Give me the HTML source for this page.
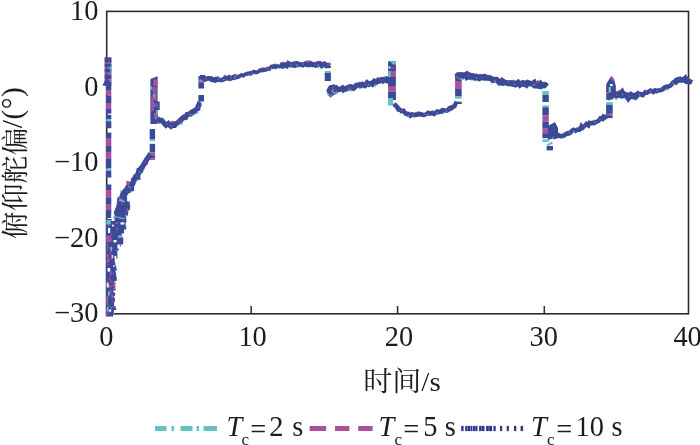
<!DOCTYPE html>
<html><head><meta charset="utf-8"><title>chart</title>
<style>html,body{margin:0;padding:0;background:#ffffff}svg{display:block}text{font-family:"Liberation Serif","Noto Serif CJK SC",serif;fill:#1c1c1c}</style>
</head><body>
<svg width="700" height="445" viewBox="0 0 700 445">
<rect width="700" height="445" fill="#ffffff"/>
<rect x="106.7" y="11.4" width="581.8" height="302.4" fill="none" stroke="#2b2b2b" stroke-width="1.6"/>
<line x1="251.2" y1="313.8" x2="251.2" y2="306.0" stroke="#2b2b2b" stroke-width="1.5"/>
<line x1="397.6" y1="313.8" x2="397.6" y2="306.0" stroke="#2b2b2b" stroke-width="1.5"/>
<line x1="544.3" y1="313.8" x2="544.3" y2="306.0" stroke="#2b2b2b" stroke-width="1.5"/>
<rect x="104.5" y="57.3" width="7.0" height="5.5" fill="#3b4a98"/>
<rect x="104.5" y="62.8" width="7.0" height="1.2" fill="#a8519c"/>
<rect x="104.5" y="64.0" width="7.0" height="3.5" fill="#3b4a98"/>
<rect x="104.5" y="67.5" width="7.0" height="1.2" fill="#a8519c"/>
<rect x="104.5" y="68.7" width="7.0" height="4.0" fill="#3b4a98"/>
<rect x="104.5" y="72.7" width="7.0" height="1.6" fill="#a8519c"/>
<rect x="104.5" y="74.3" width="7.0" height="5.0" fill="#3b4a98"/>
<rect x="104.5" y="79.3" width="7.0" height="2.0" fill="#a8519c"/>
<rect x="104.5" y="81.3" width="7.0" height="4.7" fill="#3b4a98"/>
<rect x="110.3" y="66" width="1.6" height="6" fill="#62c3c0"/>
<path d="M102.3 85.5 L106 79 L108 79 L111 85.5 Z" fill="#3b4a98"/>
<rect x="105.9" y="86.0" width="5.4" height="4.0" fill="#3b4a98"/>
<rect x="105.9" y="90.0" width="5.4" height="5.5" fill="#a8519c"/>
<rect x="105.9" y="95.5" width="5.4" height="7.5" fill="#3b4a98"/>
<rect x="105.9" y="103.0" width="5.4" height="6.0" fill="#a8519c"/>
<rect x="105.9" y="109.0" width="5.4" height="4.6" fill="#3b4a98"/>
<rect x="105.9" y="114.8" width="5.4" height="4.5" fill="#3b4a98"/>
<rect x="105.9" y="119.3" width="5.4" height="2.0" fill="#62c3c0"/>
<rect x="105.9" y="121.3" width="5.4" height="6.9" fill="#3b4a98"/>
<rect x="105.9" y="132.6" width="5.4" height="5.4" fill="#3b4a98"/>
<rect x="105.9" y="138.0" width="5.4" height="8.0" fill="#a8519c"/>
<rect x="105.9" y="146.0" width="5.4" height="6.0" fill="#3b4a98"/>
<rect x="105.9" y="152.0" width="5.4" height="7.0" fill="#a8519c"/>
<rect x="105.9" y="159.0" width="5.4" height="9.5" fill="#3b4a98"/>
<rect x="105.9" y="168.5" width="5.4" height="2.5" fill="#62c3c0"/>
<rect x="105.9" y="171.0" width="5.4" height="6.5" fill="#3b4a98"/>
<rect x="105.9" y="184.5" width="5.4" height="5.5" fill="#3b4a98"/>
<rect x="105.9" y="190.0" width="5.4" height="8.0" fill="#a8519c"/>
<rect x="105.9" y="198.0" width="5.4" height="6.0" fill="#3b4a98"/>
<rect x="105.9" y="204.0" width="5.4" height="6.0" fill="#a8519c"/>
<rect x="105.9" y="210.0" width="5.4" height="8.0" fill="#3b4a98"/>
<path d="M105.8 316.6 L113.1 316.6 L113.1 313.6 L113.9 313.6 L113.9 310.1 L116.2 310.1 L116.2 308.1 L115.6 308.1 L115.6 306.1 L114.1 306.1 L114.1 302.1 L114.9 302.1 L114.9 298.1 L114.2 298.1 L114.2 296.1 L115.1 296.1 L115.1 292.6 L113.4 292.6 L113.4 290.6 L115.6 290.6 L115.6 288.6 L114.4 288.6 L114.4 285.1 L114.4 285.1 L114.4 281.1 L116.7 281.1 L116.7 278.6 L116.7 278.6 L116.7 276.6 L116.1 276.6 L116.1 272.6 L115.4 272.6 L115.4 270.6 L116.8 270.6 L116.8 268.6 L116.2 268.6 L116.2 266.1 L115.4 266.1 L115.4 262.6 L114.7 262.6 L114.7 258.6 L117.5 258.6 L117.5 254.6 L117.3 254.6 L117.3 250.6 L118.7 250.6 L118.7 248.6 L117.4 248.6 L117.4 244.6 L123.2 244.6 L123.2 241.6 L123.3 241.6 L123.3 237.6 L121.6 237.6 L121.6 233.6 L124.0 233.6 L124.0 229.6 L126.2 229.6 L126.2 226.1 L125.7 226.1 L125.7 222.6 L126.4 222.6 L126.4 219.1 L126.0 219.1 L126.0 215.6 L128.0 215.6 L128.0 212.6 L128.4 212.6 L128.4 210.1 L129.9 210.1 L129.9 208.1 L130.1 208.1 L130.1 205.1 L129.8 205.1 L129.8 201.6 L119.0 201.6 L116.0 207.0 L114.0 212.0 L113.5 219.0 L105.8 219.0 Z" fill="#3b4a98"/>
<rect x="112.0" y="224.7" width="1.8" height="1.8" fill="#ffffff"/>
<rect x="106.6" y="309.9" width="1.5" height="2.4" fill="#a8519c"/>
<rect x="110.7" y="281.4" width="1.8" height="1.8" fill="#a8519c"/>
<rect x="113.2" y="296.9" width="1.0" height="1.0" fill="#a8519c"/>
<rect x="108.4" y="285.2" width="1.8" height="2.9" fill="#a8519c"/>
<rect x="112.9" y="283.7" width="1.8" height="2.9" fill="#a8519c"/>
<rect x="108.0" y="225.0" width="1.5" height="1.5" fill="#a8519c"/>
<rect x="111.4" y="255.1" width="1.8" height="2.9" fill="#ffffff"/>
<rect x="113.7" y="282.6" width="1.8" height="1.8" fill="#a8519c"/>
<rect x="109.1" y="223.1" width="1.2" height="1.2" fill="#a8519c"/>
<rect x="110.8" y="258.9" width="1.0" height="1.0" fill="#a8519c"/>
<rect x="109.6" y="251.8" width="1.2" height="1.2" fill="#a8519c"/>
<rect x="114.5" y="255.9" width="1.8" height="4.3" fill="#ffffff"/>
<rect x="107.0" y="249.7" width="1.0" height="1.0" fill="#a8519c"/>
<rect x="116.6" y="214.2" width="1.5" height="1.5" fill="#a8519c"/>
<rect x="119.5" y="218.0" width="1.5" height="1.5" fill="#a8519c"/>
<rect x="116.5" y="214.5" width="1.5" height="2.4" fill="#a8519c"/>
<rect x="109.8" y="271.4" width="1.8" height="4.3" fill="#a8519c"/>
<rect x="108.5" y="258.4" width="1.5" height="2.4" fill="#a8519c"/>
<rect x="111.6" y="258.2" width="1.2" height="1.9" fill="#a8519c"/>
<rect x="115.5" y="222.7" width="1.5" height="1.5" fill="#a8519c"/>
<rect x="108.1" y="281.5" width="1.2" height="1.9" fill="#a8519c"/>
<rect x="109.6" y="289.6" width="1.5" height="1.5" fill="#a8519c"/>
<rect x="112.3" y="272.6" width="1.2" height="1.2" fill="#a8519c"/>
<rect x="111.1" y="294.6" width="1.8" height="2.9" fill="#a8519c"/>
<rect x="113.7" y="285.2" width="1.8" height="2.9" fill="#a8519c"/>
<rect x="116.5" y="227.7" width="1.5" height="2.4" fill="#a8519c"/>
<rect x="115.1" y="215.6" width="1.5" height="1.5" fill="#a8519c"/>
<rect x="114.0" y="258.6" width="1.0" height="2.4" fill="#a8519c"/>
<rect x="108.6" y="304.3" width="1.0" height="2.4" fill="#a8519c"/>
<rect x="110.7" y="290.7" width="1.2" height="2.9" fill="#a8519c"/>
<rect x="108.0" y="291.4" width="1.8" height="4.3" fill="#62c3c0"/>
<rect x="115.4" y="249.9" width="1.2" height="1.2" fill="#a8519c"/>
<rect x="121.7" y="209.9" width="1.2" height="2.9" fill="#a8519c"/>
<rect x="108.8" y="277.3" width="1.2" height="1.2" fill="#a8519c"/>
<rect x="126.8" y="208.5" width="1.2" height="2.9" fill="#a8519c"/>
<rect x="110.0" y="238.3" width="1.5" height="3.6" fill="#a8519c"/>
<rect x="106.5" y="296.3" width="1.8" height="4.3" fill="#a8519c"/>
<rect x="112.5" y="295.5" width="1.2" height="1.2" fill="#a8519c"/>
<rect x="111.8" y="300.4" width="1.2" height="1.2" fill="#a8519c"/>
<rect x="116.9" y="222.1" width="1.0" height="1.6" fill="#a8519c"/>
<rect x="110.2" y="280.0" width="1.0" height="1.0" fill="#a8519c"/>
<rect x="110.4" y="233.6" width="1.8" height="1.8" fill="#a8519c"/>
<rect x="112.6" y="288.3" width="1.2" height="1.9" fill="#a8519c"/>
<rect x="111.2" y="255.4" width="1.2" height="1.9" fill="#a8519c"/>
<rect x="112.6" y="305.7" width="1.8" height="1.8" fill="#a8519c"/>
<rect x="109.9" y="251.6" width="1.2" height="2.9" fill="#a8519c"/>
<rect x="121.7" y="214.8" width="1.2" height="1.9" fill="#a8519c"/>
<rect x="121.5" y="222.3" width="1.2" height="1.2" fill="#ffffff"/>
<rect x="110.8" y="249.6" width="1.2" height="1.2" fill="#ffffff"/>
<rect x="113.8" y="282.6" width="1.8" height="1.8" fill="#a8519c"/>
<rect x="107.2" y="245.2" width="1.5" height="3.6" fill="#a8519c"/>
<rect x="106.2" y="254.1" width="1.5" height="1.5" fill="#a8519c"/>
<rect x="122.2" y="219.1" width="1.0" height="1.0" fill="#a8519c"/>
<rect x="106.6" y="235.4" width="1.5" height="1.5" fill="#a8519c"/>
<rect x="112.0" y="294.7" width="1.5" height="3.6" fill="#a8519c"/>
<rect x="122.1" y="223.0" width="1.5" height="1.5" fill="#a8519c"/>
<rect x="118.5" y="236.9" width="1.0" height="1.6" fill="#a8519c"/>
<rect x="110.7" y="307.4" width="1.0" height="1.0" fill="#62c3c0"/>
<rect x="124.9" y="214.1" width="1.5" height="3.6" fill="#a8519c"/>
<rect x="108.0" y="306.2" width="1.2" height="1.2" fill="#a8519c"/>
<rect x="107.9" y="310.7" width="1.5" height="2.4" fill="#a8519c"/>
<rect x="107.7" y="263.8" width="1.2" height="1.9" fill="#a8519c"/>
<rect x="106.3" y="244.1" width="1.0" height="1.0" fill="#a8519c"/>
<rect x="110.3" y="285.4" width="1.8" height="1.8" fill="#a8519c"/>
<rect x="106.8" y="307.0" width="1.8" height="4.3" fill="#62c3c0"/>
<rect x="113.1" y="265.4" width="1.5" height="1.5" fill="#ffffff"/>
<rect x="119.8" y="243.7" width="1.2" height="2.9" fill="#a8519c"/>
<rect x="113.2" y="312.9" width="1.0" height="1.0" fill="#62c3c0"/>
<rect x="113.0" y="273.9" width="1.0" height="1.0" fill="#a8519c"/>
<rect x="109.0" y="278.2" width="1.5" height="1.5" fill="#a8519c"/>
<rect x="106.4" y="281.1" width="1.5" height="3.6" fill="#a8519c"/>
<rect x="118.8" y="207.4" width="1.5" height="1.5" fill="#a8519c"/>
<rect x="125.5" y="210.7" width="1.2" height="1.2" fill="#a8519c"/>
<rect x="107.4" y="242.9" width="1.2" height="1.2" fill="#a8519c"/>
<rect x="106.0" y="261.0" width="1.0" height="1.0" fill="#a8519c"/>
<rect x="106.4" y="249.7" width="1.5" height="1.5" fill="#a8519c"/>
<rect x="105.8" y="313.0" width="1.8" height="3.6" fill="#a8519c"/>
<rect x="109.2" y="309.5" width="2.0" height="2.2" fill="#ffffff"/>
<rect x="106.3" y="220.0" width="4.4" height="4.6" fill="#62c3c0"/>
<rect x="107.6" y="268.0" width="2.6" height="3.6" fill="#ffffff"/>
<rect x="106.8" y="283.0" width="1.8" height="4.4" fill="#ffffff"/>
<rect x="111.5" y="214.0" width="3.0" height="7.0" fill="#ffffff"/>
<rect x="108.0" y="228.0" width="2.2" height="5.0" fill="#ffffff"/>
<rect x="118.0" y="235.5" width="4.5" height="2.2" fill="#62c3c0"/>
<rect x="110.0" y="247.0" width="2.2" height="2.2" fill="#62c3c0"/>
<rect x="113.0" y="216.5" width="2.6" height="1.8" fill="#62c3c0"/>
<rect x="106.2" y="236.0" width="5.0" height="6.0" fill="#a8519c"/>
<rect x="107.0" y="254.0" width="1.8" height="9.0" fill="#a8519c"/>
<rect x="106.4" y="296.0" width="1.6" height="9.0" fill="#a8519c"/>
<rect x="120.5" y="222.5" width="4.0" height="2.0" fill="#ffffff"/>
<rect x="113.5" y="240.0" width="3.0" height="2.4" fill="#ffffff"/>
<path d="M120.0 218.3 L121.3 213.5 L121.6 213.7 L121.6 211.7 L121.9 208.9 L121.5 207.6 L121.4 206.6 L122.3 203.7 L122.1 202.8 L122.3 201.8 L122.8 198.9" fill="none" stroke="#62c3c0" stroke-width="9.1" stroke-linejoin="miter" stroke-miterlimit="2" stroke-dasharray="7 3 2 3"/>
<path d="M120.9 213.8 L121.1 214.6 L121.4 213.1 L121.7 208.0 L121.1 208.2 L122.3 205.6 L121.8 202.6 L121.4 202.6 L121.9 200.0 L122.3 197.6 L123.0 198.9" fill="none" stroke="#a8519c" stroke-width="9.1" stroke-linejoin="miter" stroke-miterlimit="2" stroke-dasharray="8 5"/>
<path d="M120.0 217.1 L120.3 215.8 L121.1 210.2 L121.9 208.9 L121.9 207.2 L121.4 208.3 L122.4 204.8 L122.4 201.2 L122.1 203.1 L122.1 197.9 L122.6 199.8" fill="none" stroke="#3b4a98" stroke-width="9.9" stroke-linejoin="miter" stroke-miterlimit="2" />
<path d="M120.5 216.0 L120.8 214.0 L121.2 212.0 L121.5 210.0 L121.6 208.2 L121.8 206.5 L121.9 204.8 L122.0 203.0 L122.2 201.3 L122.3 199.7 L122.5 198.0" fill="none" stroke="#a8519c" stroke-width="1.3" stroke-linejoin="miter" stroke-miterlimit="2" stroke-dasharray="1.4 11" stroke-dashoffset="1"/>
<path d="M120.5 217.0 L120.8 215.0 L121.2 213.0 L121.5 211.0 L121.6 209.2 L121.8 207.5 L121.9 205.8 L122.0 204.0 L122.2 202.3 L122.3 200.7 L122.5 199.0" fill="none" stroke="#62c3c0" stroke-width="1.1" stroke-linejoin="miter" stroke-miterlimit="2" stroke-dasharray="1.3 19" stroke-dashoffset="5"/>
<path d="M121.7 201.6 L122.5 198.9 L122.9 195.1 L124.1 195.9 L125.5 194.6 L125.9 192.6 L127.0 191.1 L127.5 191.4 L128.6 190.4 L130.5 185.7 L131.0 187.4" fill="none" stroke="#62c3c0" stroke-width="6.0" stroke-linejoin="miter" stroke-miterlimit="2" stroke-dasharray="7 3 2 3"/>
<path d="M122.6 199.3 L122.5 196.5 L124.0 194.5 L124.5 192.8 L125.3 194.4 L125.7 192.5 L127.0 191.4 L128.2 187.8 L129.5 187.5 L129.4 184.5 L131.0 184.8" fill="none" stroke="#a8519c" stroke-width="6.0" stroke-linejoin="miter" stroke-miterlimit="2" stroke-dasharray="8 5"/>
<path d="M121.8 198.9 L122.6 198.0 L123.3 196.0 L123.8 194.6 L125.7 191.4 L126.7 190.8 L127.3 192.3 L127.7 189.2 L128.5 188.0 L130.6 187.8 L130.5 185.5" fill="none" stroke="#3b4a98" stroke-width="6.8" stroke-linejoin="miter" stroke-miterlimit="2" />
<path d="M122.0 200.0 L122.8 198.0 L123.5 196.0 L124.4 194.6 L125.2 193.2 L126.1 191.9 L127.0 190.5 L128.0 189.2 L129.0 188.0 L130.0 186.8 L131.0 185.5" fill="none" stroke="#a8519c" stroke-width="1.3" stroke-linejoin="miter" stroke-miterlimit="2" stroke-dasharray="1.4 12" stroke-dashoffset="0"/>
<path d="M122.0 201.0 L122.8 199.0 L123.5 197.0 L124.4 195.6 L125.2 194.2 L126.1 192.9 L127.0 191.5 L128.0 190.2 L129.0 189.0 L130.0 187.8 L131.0 186.5" fill="none" stroke="#62c3c0" stroke-width="1.1" stroke-linejoin="miter" stroke-miterlimit="2" stroke-dasharray="1.3 21" stroke-dashoffset="1"/>
<path d="M129.5 188.2 L131.2 185.2 L132.6 184.7 L132.8 184.4 L134.3 181.9 L134.4 181.5 L135.6 180.4 L136.6 176.8 L136.7 177.6 L137.9 175.1 L138.4 174.4 L139.7 173.0 L140.7 169.1 L141.4 168.0 L142.2 168.0 L143.7 165.4 L144.2 164.1 L145.7 161.5 L146.7 159.8 L147.8 160.7 L149.2 158.0 L150.3 157.5" fill="none" stroke="#62c3c0" stroke-width="4.4" stroke-linejoin="miter" stroke-miterlimit="2" stroke-dasharray="7 3 2 3"/>
<path d="M129.9 186.7 L130.7 184.1 L132.1 183.1 L132.8 183.3 L133.6 179.4 L135.4 179.1 L136.0 177.1 L136.2 177.3 L137.2 175.2 L137.8 174.1 L138.9 172.9 L140.2 169.2 L141.1 168.6 L141.7 167.3 L142.3 167.0 L144.1 163.3 L144.4 163.8 L145.9 163.0 L146.5 158.6 L148.3 159.9 L149.2 156.9 L150.4 156.4" fill="none" stroke="#a8519c" stroke-width="4.4" stroke-linejoin="miter" stroke-miterlimit="2" stroke-dasharray="8 5"/>
<path d="M129.7 186.0 L131.0 187.2 L131.5 185.8 L133.2 182.8 L133.5 179.8 L134.4 179.0 L135.4 176.9 L136.7 177.0 L137.8 177.1 L137.7 175.6 L138.8 170.9 L139.3 171.0 L140.7 170.5 L141.1 168.0 L142.2 167.5 L142.9 166.0 L144.3 163.5 L145.2 162.0 L146.7 159.5 L147.8 158.0 L149.2 155.9 L151.1 157.6" fill="none" stroke="#3b4a98" stroke-width="5.2" stroke-linejoin="miter" stroke-miterlimit="2" />
<path d="M130.0 187.0 L131.0 185.6 L132.0 184.2 L133.0 182.8 L134.0 181.4 L135.0 180.0 L135.8 178.5 L136.5 177.0 L137.2 175.5 L138.0 174.0 L138.9 172.5 L139.8 171.0 L140.6 169.5 L141.5 168.0 L142.5 166.5 L143.5 165.0 L144.5 163.5 L145.5 162.0 L146.5 160.5 L147.8 159.0 L149.2 157.5 L150.5 156.0" fill="none" stroke="#a8519c" stroke-width="1.3" stroke-linejoin="miter" stroke-miterlimit="2" stroke-dasharray="1.4 15" stroke-dashoffset="4"/>
<path d="M130.0 188.0 L131.0 186.6 L132.0 185.2 L133.0 183.8 L134.0 182.4 L135.0 181.0 L135.8 179.5 L136.5 178.0 L137.2 176.5 L138.0 175.0 L138.9 173.5 L139.8 172.0 L140.6 170.5 L141.5 169.0 L142.5 167.5 L143.5 166.0 L144.5 164.5 L145.5 163.0 L146.5 161.5 L147.8 160.0 L149.2 158.5 L150.5 157.0" fill="none" stroke="#62c3c0" stroke-width="1.1" stroke-linejoin="miter" stroke-miterlimit="2" stroke-dasharray="1.3 17" stroke-dashoffset="0"/>
<rect x="149.7" y="129.0" width="5.4" height="10.0" fill="#3b4a98"/>
<rect x="149.7" y="139.0" width="5.4" height="2.2" fill="#62c3c0"/>
<rect x="149.7" y="143.8" width="5.4" height="8.5" fill="#3b4a98"/>
<rect x="149.7" y="152.3" width="5.4" height="3.0" fill="#a8519c"/>
<rect x="149.7" y="155.3" width="5.4" height="3.0" fill="#3b4a98"/>
<rect x="149.7" y="158.3" width="5.4" height="1.7" fill="#a8519c"/>
<path d="M150.4 79 L157.6 76.3 L157.6 124 L150.4 124 Z" fill="#3b4a98"/>
<rect x="153.2" y="79.5" width="4.4" height="6.5" fill="#a8519c"/>
<rect x="150.4" y="86.5" width="1.8" height="3.0" fill="#62c3c0"/>
<rect x="152.4" y="87.0" width="4.0" height="5.5" fill="#a8519c"/>
<rect x="152.8" y="94.0" width="2.2" height="5.0" fill="#62c3c0"/>
<rect x="154.6" y="92.0" width="2.2" height="9.0" fill="#a8519c"/>
<rect x="151.2" y="97.0" width="2.6" height="14.0" fill="#a8519c"/>
<rect x="153.8" y="103.0" width="2.2" height="4.5" fill="#62c3c0"/>
<rect x="153.8" y="113.0" width="3.8" height="5.0" fill="#a8519c"/>
<rect x="156.2" y="110.0" width="1.6" height="4.0" fill="#62c3c0"/>
<rect x="154.5" y="101.5" width="5.2" height="8.5" fill="#3b4a98"/>
<rect x="155.8" y="103.5" width="1.6" height="4" fill="#a8519c"/>
<path d="M156.1 120.2 L158.2 119.1 L159.2 121.0 L160.8 122.2 L162.9 123.6 L164.2 123.6 L165.4 124.2 L168.1 124.0 L169.3 124.7 L171.3 125.1 L172.6 124.7 L174.8 123.8 L176.1 124.5 L178.1 123.0 L179.8 120.7 L181.1 121.8 L182.1 118.3 L184.4 118.1 L186.3 116.4 L187.3 117.0 L188.6 114.6 L189.7 113.9 L191.2 114.4 L193.0 113.1 L194.3 112.5 L196.4 111.8 L197.4 108.2 L198.0 106.4 L199.4 106.9 L200.6 104.9" fill="none" stroke="#62c3c0" stroke-width="4.2" stroke-linejoin="miter" stroke-miterlimit="2" stroke-dasharray="7 3 2 3"/>
<path d="M156.4 118.7 L157.8 119.8 L159.0 120.5 L160.6 121.1 L162.6 121.4 L164.6 122.6 L166.2 122.8 L167.8 123.7 L169.2 124.2 L171.4 123.6 L172.3 123.0 L174.5 123.2 L175.8 124.2 L177.1 122.5 L179.6 121.8 L180.8 120.1 L182.8 119.1 L184.9 116.0 L186.4 115.0 L187.7 115.1 L189.1 115.2 L190.7 114.4 L191.2 112.8 L192.4 113.1 L194.3 111.2 L195.6 108.6 L197.9 107.9 L198.8 106.6 L199.5 104.4 L200.1 102.8" fill="none" stroke="#a8519c" stroke-width="4.2" stroke-linejoin="miter" stroke-miterlimit="2" stroke-dasharray="8 5"/>
<path d="M156.7 118.5 L158.1 119.5 L159.1 120.5 L161.5 120.2 L162.4 121.0 L164.0 123.2 L166.0 125.3 L168.2 123.6 L169.0 124.8 L171.0 126.5 L172.3 125.4 L174.7 125.4 L176.3 123.5 L177.4 123.1 L179.1 121.2 L181.3 119.2 L182.6 118.1 L184.0 116.9 L185.7 117.3 L187.0 114.4 L188.7 114.1 L190.2 113.3 L191.8 112.0 L193.2 111.2 L194.0 111.2 L196.5 109.1 L197.9 108.5 L197.9 106.8 L199.2 103.9 L200.1 104.3" fill="none" stroke="#3b4a98" stroke-width="5.0" stroke-linejoin="miter" stroke-miterlimit="2" />
<path d="M156.5 118.5 L158.0 119.5 L159.5 120.5 L161.0 121.5 L162.7 122.3 L164.3 123.2 L166.0 124.0 L167.7 124.4 L169.3 124.8 L171.0 125.2 L172.7 124.6 L174.3 124.1 L176.0 123.5 L177.7 122.3 L179.3 121.2 L181.0 120.0 L182.7 118.8 L184.3 117.7 L186.0 116.5 L187.4 115.7 L188.8 114.9 L190.2 114.1 L191.6 113.3 L193.0 112.5 L194.5 111.2 L196.0 109.8 L197.5 108.5 L198.5 106.8 L199.5 105.2 L200.5 103.5" fill="none" stroke="#a8519c" stroke-width="1.3" stroke-linejoin="miter" stroke-miterlimit="2" stroke-dasharray="1.4 11" stroke-dashoffset="1"/>
<path d="M156.5 119.5 L158.0 120.5 L159.5 121.5 L161.0 122.5 L162.7 123.3 L164.3 124.2 L166.0 125.0 L167.7 125.4 L169.3 125.8 L171.0 126.2 L172.7 125.6 L174.3 125.1 L176.0 124.5 L177.7 123.3 L179.3 122.2 L181.0 121.0 L182.7 119.8 L184.3 118.7 L186.0 117.5 L187.4 116.7 L188.8 115.9 L190.2 115.1 L191.6 114.3 L193.0 113.5 L194.5 112.2 L196.0 110.8 L197.5 109.5 L198.5 107.8 L199.5 106.2 L200.5 104.5" fill="none" stroke="#62c3c0" stroke-width="1.1" stroke-linejoin="miter" stroke-miterlimit="2" stroke-dasharray="1.3 22" stroke-dashoffset="8"/>
<rect x="198.4" y="76.0" width="5.6" height="4.0" fill="#3b4a98"/>
<rect x="198.4" y="80.0" width="5.6" height="3.0" fill="#a8519c"/>
<rect x="198.4" y="83.0" width="5.6" height="5.5" fill="#3b4a98"/>
<rect x="198.4" y="95.0" width="5.6" height="6.5" fill="#3b4a98"/>
<rect x="198.4" y="101.5" width="5.6" height="0.5" fill="#62c3c0"/>
<path d="M200.4 78.6 L201.5 79.5 L204.0 78.2 L205.4 79.6 L206.7 79.2 L208.5 79.0 L210.6 80.0 L213.0 79.3 L214.1 79.7 L216.7 79.3 L218.1 79.1 L220.5 79.8 L221.5 78.6 L223.6 79.4 L225.7 78.2 L226.8 79.3 L228.9 78.2 L230.5 79.4 L232.3 78.2 L234.1 77.6 L236.4 78.6" fill="none" stroke="#62c3c0" stroke-width="3.8" stroke-linejoin="miter" stroke-miterlimit="2" stroke-dasharray="7 3 2 3"/>
<path d="M199.8 76.8 L202.0 77.0 L202.9 78.8 L205.2 78.8 L206.9 79.1 L208.9 77.7 L210.3 78.7 L212.9 79.7 L214.2 79.2 L216.4 78.8 L217.9 78.1 L220.2 79.4 L221.5 78.3 L224.1 79.1 L225.1 77.1 L227.8 78.7 L229.0 76.5 L231.3 77.0 L233.0 77.2 L234.6 75.9 L236.3 75.7" fill="none" stroke="#a8519c" stroke-width="3.8" stroke-linejoin="miter" stroke-miterlimit="2" stroke-dasharray="8 5"/>
<path d="M199.9 77.3 L202.1 77.5 L203.6 77.3 L205.1 79.3 L206.6 78.8 L208.5 78.3 L211.4 78.4 L212.2 79.9 L215.1 80.5 L216.0 79.2 L217.9 79.8 L220.1 80.0 L222.3 79.9 L223.7 79.3 L225.2 78.4 L227.4 78.2 L229.0 77.3 L230.2 78.4 L233.1 77.4 L233.9 77.8 L236.3 76.8" fill="none" stroke="#3b4a98" stroke-width="4.6" stroke-linejoin="miter" stroke-miterlimit="2" />
<path d="M200.0 78.0 L201.8 78.2 L203.5 78.4 L205.2 78.6 L207.0 78.8 L208.9 79.0 L210.8 79.1 L212.8 79.2 L214.7 79.4 L216.5 79.2 L218.3 79.1 L220.2 79.0 L222.0 78.8 L223.8 78.6 L225.5 78.4 L227.2 78.2 L229.0 78.0 L230.8 77.7 L232.5 77.4 L234.2 77.1 L236.0 76.8" fill="none" stroke="#a8519c" stroke-width="1.3" stroke-linejoin="miter" stroke-miterlimit="2" stroke-dasharray="1.4 11" stroke-dashoffset="7"/>
<path d="M200.0 79.0 L201.8 79.2 L203.5 79.4 L205.2 79.6 L207.0 79.8 L208.9 80.0 L210.8 80.1 L212.8 80.2 L214.7 80.4 L216.5 80.2 L218.3 80.1 L220.2 80.0 L222.0 79.8 L223.8 79.6 L225.5 79.4 L227.2 79.2 L229.0 79.0 L230.8 78.7 L232.5 78.4 L234.2 78.1 L236.0 77.8" fill="none" stroke="#62c3c0" stroke-width="1.1" stroke-linejoin="miter" stroke-miterlimit="2" stroke-dasharray="1.3 23" stroke-dashoffset="1"/>
<path d="M234.5 77.4 L236.5 78.0 L238.3 77.4 L239.4 76.2 L242.4 76.1 L244.0 75.2 L245.9 76.2 L247.6 75.6 L248.7 73.8 L251.1 74.3 L252.2 72.7 L254.9 72.3 L256.4 72.8 L257.9 72.2 L259.0 71.9 L261.1 70.5 L262.3 70.7 L264.6 70.0 L265.4 70.5 L267.2 69.5 L268.9 68.4 L270.4 67.9 L272.3 68.2 L273.9 67.2 L275.9 67.6 L277.4 67.2 L278.8 67.0 L281.6 65.9" fill="none" stroke="#62c3c0" stroke-width="2.8" stroke-linejoin="miter" stroke-miterlimit="2" stroke-dasharray="7 3 2 3"/>
<path d="M235.0 76.8 L237.1 75.8 L238.4 76.6 L240.3 75.5 L241.7 75.0 L243.3 74.5 L245.1 73.8 L247.6 74.7 L249.1 73.4 L250.8 73.6 L253.1 72.9 L254.9 71.9 L256.3 70.5 L257.4 70.8 L259.3 69.9 L260.5 69.7 L262.7 68.5 L263.6 69.0 L265.4 68.5 L267.3 67.9 L268.6 67.0 L270.4 67.8 L272.0 65.9 L274.6 66.7 L275.9 65.1 L277.2 65.8 L279.1 65.7 L281.6 64.0" fill="none" stroke="#a8519c" stroke-width="2.8" stroke-linejoin="miter" stroke-miterlimit="2" stroke-dasharray="8 5"/>
<path d="M235.4 77.0 L236.8 77.3 L238.3 77.0 L240.3 75.7 L241.5 74.8 L243.2 75.8 L245.0 74.3 L247.1 73.5 L249.8 73.0 L250.4 73.8 L252.9 72.1 L254.0 71.5 L256.1 72.5 L257.7 72.0 L259.2 71.2 L260.6 70.2 L262.0 70.7 L263.6 70.3 L266.0 69.9 L267.3 68.6 L269.2 69.1 L271.1 66.8 L272.7 67.3 L273.8 66.0 L275.7 67.3 L277.1 66.0 L279.8 66.6 L281.5 65.3" fill="none" stroke="#3b4a98" stroke-width="3.6" stroke-linejoin="miter" stroke-miterlimit="2" />
<path d="M235.0 77.0 L236.7 76.7 L238.3 76.5 L240.0 76.2 L241.9 75.7 L243.7 75.3 L245.6 74.8 L247.4 74.4 L249.3 73.9 L251.0 73.3 L252.7 72.6 L254.4 72.0 L256.1 71.5 L257.7 71.1 L259.4 70.7 L261.0 70.2 L262.6 69.8 L264.1 69.4 L265.7 69.0 L267.2 68.6 L268.8 68.2 L270.6 67.8 L272.4 67.3 L274.2 66.9 L276.0 66.4 L277.7 66.0 L279.3 65.7 L281.0 65.3" fill="none" stroke="#a8519c" stroke-width="1.3" stroke-linejoin="miter" stroke-miterlimit="2" stroke-dasharray="1.4 15" stroke-dashoffset="0"/>
<path d="M235.0 78.0 L236.7 77.7 L238.3 77.5 L240.0 77.2 L241.9 76.7 L243.7 76.3 L245.6 75.8 L247.4 75.4 L249.3 74.9 L251.0 74.3 L252.7 73.6 L254.4 73.0 L256.1 72.5 L257.7 72.1 L259.4 71.7 L261.0 71.2 L262.6 70.8 L264.1 70.4 L265.7 70.0 L267.2 69.6 L268.8 69.2 L270.6 68.8 L272.4 68.3 L274.2 67.9 L276.0 67.4 L277.7 67.0 L279.3 66.7 L281.0 66.3" fill="none" stroke="#62c3c0" stroke-width="1.1" stroke-linejoin="miter" stroke-miterlimit="2" stroke-dasharray="1.3 21" stroke-dashoffset="8"/>
<path d="M280.2 66.5 L283.5 66.8 L284.5 66.6 L287.0 64.4 L288.3 64.5 L290.5 65.9 L291.5 64.2 L294.2 64.2 L295.5 65.1 L297.4 65.6 L299.9 65.9 L301.7 64.8 L303.1 64.8 L304.4 63.6 L307.3 64.1 L309.0 65.4 L310.1 65.0 L312.1 64.0 L313.0 63.9 L315.3 64.1 L317.4 65.5 L317.8 64.2 L320.2 64.0 L321.4 64.1 L324.2 65.9 L325.3 66.4 L327.6 65.8 L330.0 66.1" fill="none" stroke="#62c3c0" stroke-width="4.0" stroke-linejoin="miter" stroke-miterlimit="2" stroke-dasharray="7 3 2 3"/>
<path d="M280.3 64.6 L282.7 63.8 L284.2 65.4 L287.0 64.8 L287.8 64.7 L290.2 63.8 L291.4 64.5 L293.9 63.3 L295.4 63.1 L297.3 64.6 L298.8 64.2 L301.7 64.2 L303.2 63.5 L304.7 64.1 L307.1 62.4 L308.5 62.6 L310.2 62.5 L312.1 64.1 L314.0 63.8 L314.9 63.6 L316.8 63.3 L318.7 62.8 L319.8 62.9 L322.1 64.8 L324.4 64.3 L326.2 64.2 L327.7 63.4 L329.9 65.4" fill="none" stroke="#a8519c" stroke-width="4.0" stroke-linejoin="miter" stroke-miterlimit="2" stroke-dasharray="8 5"/>
<path d="M279.7 64.7 L282.5 66.2 L285.1 64.8 L286.8 65.9 L288.3 63.4 L290.2 64.4 L291.4 64.3 L294.2 65.5 L295.1 65.4 L296.9 63.4 L299.1 64.1 L301.7 64.8 L302.7 65.2 L304.7 64.0 L306.3 64.7 L308.8 64.8 L310.4 64.1 L312.1 64.8 L313.2 64.2 L315.4 65.4 L316.6 64.3 L318.3 64.3 L320.1 63.7 L321.7 65.7 L324.3 63.8 L325.7 64.6 L327.4 65.9 L329.9 65.5" fill="none" stroke="#3b4a98" stroke-width="4.8" stroke-linejoin="miter" stroke-miterlimit="2" />
<path d="M280.0 65.4 L283.0 65.0 L284.8 64.8 L286.5 64.7 L288.2 64.6 L290.0 64.4 L291.9 64.3 L293.8 64.2 L295.6 64.2 L297.5 64.1 L299.4 64.1 L301.2 64.0 L303.1 64.0 L305.0 64.0 L306.8 64.0 L308.5 64.0 L310.2 64.1 L312.0 64.1 L313.6 64.2 L315.2 64.2 L316.8 64.3 L318.4 64.3 L320.0 64.4 L321.9 64.5 L323.8 64.6 L325.7 64.6 L327.6 64.7 L329.5 64.8" fill="none" stroke="#a8519c" stroke-width="1.3" stroke-linejoin="miter" stroke-miterlimit="2" stroke-dasharray="1.4 11" stroke-dashoffset="2"/>
<path d="M280.0 66.4 L283.0 66.0 L284.8 65.8 L286.5 65.7 L288.2 65.6 L290.0 65.4 L291.9 65.3 L293.8 65.2 L295.6 65.2 L297.5 65.1 L299.4 65.1 L301.2 65.0 L303.1 65.0 L305.0 65.0 L306.8 65.0 L308.5 65.0 L310.2 65.1 L312.0 65.1 L313.6 65.2 L315.2 65.2 L316.8 65.3 L318.4 65.3 L320.0 65.4 L321.9 65.5 L323.8 65.6 L325.7 65.6 L327.6 65.7 L329.5 65.8" fill="none" stroke="#62c3c0" stroke-width="1.1" stroke-linejoin="miter" stroke-miterlimit="2" stroke-dasharray="1.3 20" stroke-dashoffset="5"/>
<rect x="324.7" y="66.0" width="6.2" height="2.0" fill="#3b4a98"/>
<rect x="324.7" y="71.0" width="6.2" height="2.0" fill="#62c3c0"/>
<rect x="324.7" y="73.0" width="6.2" height="8.0" fill="#3b4a98"/>
<path d="M326.3 90.5 L329 85.5 L334 84.3 L338 86 L338 93 L333 95.5 L330.5 97.5 L328 95 Z" fill="#3b4a98"/>
<path d="M329 94 L331 98 L333.5 94.5 Z" fill="#a8519c"/>
<path d="M326.6 93.5 L328.6 96.4 L329.4 94 Z" fill="#62c3c0"/>
<path d="M333.1 89.6 L334.4 91.3 L336.2 91.3 L338.8 89.4 L340.2 89.5 L341.6 89.1 L343.8 89.2 L345.7 88.5 L348.2 88.5 L350.0 88.5 L350.7 89.1 L352.9 87.0 L355.4 86.7 L356.1 86.2 L358.8 85.1 L360.1 86.9 L362.3 85.9 L363.9 86.2 L365.6 85.4 L367.5 85.1 L369.0 83.6 L370.5 82.9 L372.7 82.9 L374.9 84.1 L376.0 82.4 L378.1 81.3 L379.8 81.7 L380.4 82.2 L382.6 81.3 L384.6 81.5 L385.6 78.8 L387.8 80.8 L388.5 78.7" fill="none" stroke="#62c3c0" stroke-width="4.2" stroke-linejoin="miter" stroke-miterlimit="2" stroke-dasharray="7 3 2 3"/>
<path d="M332.7 89.4 L335.3 88.1 L336.3 89.9 L338.2 88.3 L340.0 87.8 L342.4 88.5 L343.8 89.2 L345.9 89.6 L347.4 87.9 L350.0 88.0 L351.4 87.3 L352.7 86.2 L354.3 85.0 L357.2 86.0 L358.8 85.4 L359.9 84.3 L361.9 85.7 L364.3 85.4 L365.9 83.7 L366.6 84.6 L368.4 83.9 L370.5 83.1 L373.0 83.1 L374.3 82.3 L376.7 82.2 L377.7 82.3 L379.7 80.9 L381.3 80.0 L382.9 79.0 L384.4 79.8 L386.4 79.4 L387.4 79.3 L389.4 77.7" fill="none" stroke="#a8519c" stroke-width="4.2" stroke-linejoin="miter" stroke-miterlimit="2" stroke-dasharray="8 5"/>
<path d="M333.2 89.3 L334.7 89.4 L336.6 88.1 L338.4 89.5 L339.6 89.6 L342.4 88.0 L343.5 89.8 L346.5 88.0 L347.8 88.3 L349.7 86.6 L351.4 86.7 L353.5 88.3 L354.6 87.4 L356.2 85.4 L359.0 84.9 L360.7 85.3 L362.4 84.2 L364.2 85.4 L365.0 85.6 L367.1 82.7 L369.1 84.4 L371.2 83.2 L372.4 84.1 L374.4 81.1 L376.6 82.0 L378.1 80.2 L379.5 81.0 L380.9 79.8 L382.6 81.0 L383.7 79.8 L386.3 80.7 L387.4 79.0 L388.6 79.4" fill="none" stroke="#3b4a98" stroke-width="5.0" stroke-linejoin="miter" stroke-miterlimit="2" />
<path d="M333.0 89.3 L334.8 89.4 L336.5 89.4 L338.2 89.5 L340.0 89.6 L342.0 89.3 L344.0 89.1 L346.0 88.8 L347.8 88.3 L349.5 87.9 L351.2 87.5 L353.0 87.0 L354.9 86.6 L356.7 86.2 L358.5 85.7 L360.4 85.3 L362.0 85.0 L363.7 84.7 L365.4 84.3 L367.0 84.0 L368.9 83.6 L370.9 83.2 L372.8 82.8 L374.7 82.4 L376.3 82.0 L377.9 81.5 L379.4 81.0 L381.0 80.6 L382.6 80.2 L384.2 79.8 L385.8 79.4 L387.4 79.0 L389.0 78.6" fill="none" stroke="#a8519c" stroke-width="1.3" stroke-linejoin="miter" stroke-miterlimit="2" stroke-dasharray="1.4 15" stroke-dashoffset="0"/>
<path d="M333.0 90.3 L334.8 90.4 L336.5 90.4 L338.2 90.5 L340.0 90.6 L342.0 90.3 L344.0 90.1 L346.0 89.8 L347.8 89.3 L349.5 88.9 L351.2 88.5 L353.0 88.0 L354.9 87.6 L356.7 87.2 L358.5 86.7 L360.4 86.3 L362.0 86.0 L363.7 85.7 L365.4 85.3 L367.0 85.0 L368.9 84.6 L370.9 84.2 L372.8 83.8 L374.7 83.4 L376.3 83.0 L377.9 82.5 L379.4 82.0 L381.0 81.6 L382.6 81.2 L384.2 80.8 L385.8 80.4 L387.4 80.0 L389.0 79.6" fill="none" stroke="#62c3c0" stroke-width="1.1" stroke-linejoin="miter" stroke-miterlimit="2" stroke-dasharray="1.3 19" stroke-dashoffset="5"/>
<rect x="388.1" y="61.2" width="7.8" height="9.8" fill="#3b4a98"/>
<rect x="388.1" y="71.0" width="7.8" height="6.0" fill="#a8519c"/>
<rect x="388.1" y="77.0" width="7.8" height="9.0" fill="#3b4a98"/>
<rect x="388.1" y="86.0" width="7.8" height="5.5" fill="#a8519c"/>
<rect x="388.1" y="91.5" width="7.8" height="8.5" fill="#3b4a98"/>
<path d="M389.5 61.2 L395.9 61.2 L395.9 64.6 L393 64.6 Z" fill="#62c3c0"/>
<rect x="388.1" y="71" width="2.6" height="6" fill="#62c3c0"/>
<rect x="388.1" y="98" width="5" height="7.6" fill="#62c3c0"/>
<rect x="388.6" y="66.6" width="1.8" height="1.8" fill="#ffffff"/>
<rect x="391" y="67" width="2.6" height="1.2" fill="#a8519c"/>
<path d="M385.5 77.5 L389 77 L389 86 Z" fill="#3b4a98"/>
<path d="M394.0 104.8 L395.4 106.6 L396.2 106.9 L398.1 107.3 L399.0 109.5 L399.7 110.4 L401.8 112.0 L403.1 113.5 L405.0 113.7 L407.4 113.5 L409.1 115.7 L410.4 116.3 L412.2 115.5 L414.2 116.2 L415.7 115.6 L417.7 115.7 L419.9 114.9 L421.6 115.0 L423.0 114.6 L424.8 115.9 L426.7 115.3 L428.0 114.1 L429.8 114.5 L432.0 114.7 L433.2 114.2 L436.1 113.6 L437.0 112.8 L438.7 112.1 L441.7 112.6 L443.2 112.5 L445.5 111.5 L447.1 110.9 L449.2 110.2 L451.2 108.2 L453.2 107.6 L454.5 105.3 L455.0 103.7 L456.8 104.1" fill="none" stroke="#62c3c0" stroke-width="3.4" stroke-linejoin="miter" stroke-miterlimit="2" stroke-dasharray="7 3 2 3"/>
<path d="M394.2 103.2 L395.6 105.3 L396.4 105.3 L397.3 106.8 L398.6 107.8 L400.4 109.9 L401.1 110.0 L402.7 110.4 L405.4 112.7 L407.4 113.2 L408.2 114.0 L410.7 115.2 L413.0 114.3 L414.1 113.5 L416.2 113.9 L417.3 113.3 L418.9 114.6 L420.8 115.1 L422.5 114.7 L424.3 112.6 L426.8 112.9 L428.5 112.6 L429.5 113.7 L432.1 113.6 L434.0 111.6 L435.8 112.7 L437.5 113.0 L439.0 112.6 L441.4 110.1 L442.4 111.0 L445.4 109.1 L446.8 109.9 L448.6 109.6 L451.0 106.7 L452.8 106.7 L454.1 105.4 L454.9 104.2 L456.3 102.3" fill="none" stroke="#a8519c" stroke-width="3.4" stroke-linejoin="miter" stroke-miterlimit="2" stroke-dasharray="8 5"/>
<path d="M394.2 104.0 L395.1 105.2 L396.9 107.0 L397.3 107.5 L398.3 109.6 L400.5 110.1 L401.4 111.1 L403.6 110.6 L405.4 113.7 L407.3 114.5 L408.7 114.0 L410.5 115.9 L412.3 114.2 L414.6 114.9 L416.2 115.0 L417.5 114.8 L419.1 113.6 L421.0 113.9 L423.4 115.1 L424.3 114.9 L426.7 114.0 L428.1 112.7 L430.0 113.6 L432.2 112.7 L434.1 114.1 L436.1 112.1 L437.3 111.4 L439.5 112.1 L441.4 111.6 L443.1 110.1 L445.3 110.6 L447.0 110.6 L449.4 108.2 L450.7 108.8 L453.0 107.0 L454.6 106.2 L455.1 104.7 L456.6 101.8" fill="none" stroke="#3b4a98" stroke-width="4.2" stroke-linejoin="miter" stroke-miterlimit="2" />
<path d="M394.0 104.0 L395.2 105.2 L396.3 106.3 L397.5 107.5 L398.9 108.5 L400.2 109.4 L401.6 110.4 L403.3 111.7 L405.0 113.0 L406.9 113.8 L408.8 114.7 L410.6 114.8 L412.4 114.8 L414.2 114.9 L416.0 115.0 L417.8 114.8 L419.5 114.7 L421.2 114.6 L423.0 114.4 L424.8 114.2 L426.5 114.0 L428.2 113.8 L430.0 113.6 L431.9 113.3 L433.8 113.0 L435.6 112.8 L437.5 112.5 L439.3 112.1 L441.2 111.6 L443.0 111.2 L445.0 110.6 L447.0 109.9 L449.0 109.3 L451.0 108.2 L453.0 107.0 L454.2 105.5 L455.3 104.0 L456.5 102.5" fill="none" stroke="#a8519c" stroke-width="1.3" stroke-linejoin="miter" stroke-miterlimit="2" stroke-dasharray="1.4 11" stroke-dashoffset="3"/>
<path d="M394.0 105.0 L395.2 106.2 L396.3 107.3 L397.5 108.5 L398.9 109.5 L400.2 110.4 L401.6 111.4 L403.3 112.7 L405.0 114.0 L406.9 114.8 L408.8 115.7 L410.6 115.8 L412.4 115.8 L414.2 115.9 L416.0 116.0 L417.8 115.8 L419.5 115.7 L421.2 115.6 L423.0 115.4 L424.8 115.2 L426.5 115.0 L428.2 114.8 L430.0 114.6 L431.9 114.3 L433.8 114.0 L435.6 113.8 L437.5 113.5 L439.3 113.1 L441.2 112.6 L443.0 112.2 L445.0 111.6 L447.0 110.9 L449.0 110.3 L451.0 109.2 L453.0 108.0 L454.2 106.5 L455.3 105.0 L456.5 103.5" fill="none" stroke="#62c3c0" stroke-width="1.1" stroke-linejoin="miter" stroke-miterlimit="2" stroke-dasharray="1.3 18" stroke-dashoffset="2"/>
<rect x="455.1" y="74.0" width="6.6" height="7.0" fill="#3b4a98"/>
<rect x="455.1" y="81.0" width="6.6" height="8.0" fill="#a8519c"/>
<rect x="455.1" y="89.0" width="6.6" height="7.5" fill="#3b4a98"/>
<rect x="455.1" y="96.5" width="6.6" height="2.2" fill="#62c3c0"/>
<rect x="455.1" y="101.7" width="6.6" height="2.3" fill="#3b4a98"/>
<path d="M457.0 76.2 L458.6 76.3 L460.7 77.5 L461.9 77.7 L464.1 77.5 L465.8 76.4 L467.2 76.1 L468.8 76.1 L471.2 75.7 L472.4 77.9 L474.6 77.2 L476.0 78.4 L478.0 76.5 L480.1 78.1 L482.1 77.1 L484.1 78.0 L486.0 78.5 L486.5 77.9 L488.6 80.0 L490.6 80.9 L492.9 81.4 L494.4 82.1 L496.2 80.4 L497.5 81.2 L499.0 83.4 L501.3 81.9 L503.4 82.8 L504.4 83.8 L506.1 84.5 L508.8 82.4 L510.1 82.5 L512.4 83.2 L513.8 84.5 L516.0 84.0 L517.1 83.6 L518.9 83.4 L521.6 84.4 L523.1 84.6 L525.0 84.0 L526.6 84.0 L528.4 84.2 L530.6 85.5 L532.5 84.4 L534.2 85.5 L535.1 85.9 L536.7 85.6 L538.8 86.1 L540.9 87.1 L542.7 85.9 L543.2 85.5 L546.0 86.5 L546.7 86.3" fill="none" stroke="#62c3c0" stroke-width="4.8" stroke-linejoin="miter" stroke-miterlimit="2" stroke-dasharray="7 3 2 3"/>
<path d="M456.4 75.1 L458.8 74.6 L460.3 76.4 L462.2 74.5 L464.0 74.7 L465.4 75.5 L467.5 76.2 L469.1 74.5 L471.0 75.6 L472.4 75.7 L474.7 76.5 L476.9 76.2 L478.7 75.4 L480.4 77.8 L481.9 76.3 L483.4 76.6 L485.3 77.4 L486.7 78.8 L489.4 77.4 L490.8 78.6 L492.4 79.3 L494.1 80.6 L496.5 79.7 L497.6 79.5 L499.4 80.5 L500.9 82.4 L503.0 81.2 L504.4 82.3 L506.9 83.2 L508.5 83.0 L509.6 81.6 L512.1 82.9 L513.4 82.2 L515.1 83.3 L517.6 83.8 L519.9 83.0 L521.1 82.4 L523.3 84.2 L524.5 82.9 L527.1 82.2 L528.7 82.5 L530.3 84.5 L531.4 83.8 L533.8 84.5 L535.3 84.9 L537.8 82.9 L538.8 83.6 L541.0 85.7 L542.5 86.0 L543.9 86.4 L545.1 84.7 L547.3 86.0" fill="none" stroke="#a8519c" stroke-width="4.8" stroke-linejoin="miter" stroke-miterlimit="2" stroke-dasharray="8 5"/>
<path d="M456.0 76.8 L458.0 75.2 L460.9 75.1 L462.4 75.1 L463.6 75.8 L466.1 74.5 L467.1 77.2 L469.7 76.0 L470.5 76.9 L473.0 76.2 L474.5 77.6 L476.3 76.6 L478.7 78.1 L479.7 77.1 L481.5 77.4 L483.8 77.8 L484.9 76.8 L487.0 77.7 L488.8 78.0 L491.0 78.5 L492.6 79.8 L494.5 79.5 L496.5 79.5 L498.3 81.2 L499.7 82.4 L501.7 82.8 L502.4 81.1 L505.1 82.6 L506.4 82.7 L508.5 83.6 L510.4 83.0 L512.3 83.9 L513.3 84.0 L515.3 84.6 L518.1 82.6 L519.9 84.8 L521.5 83.5 L522.7 82.8 L524.5 83.6 L526.4 84.9 L527.9 82.9 L530.2 83.8 L532.3 83.8 L533.9 82.8 L534.9 85.6 L537.4 85.8 L539.1 86.1 L540.7 83.9 L542.3 85.5 L543.3 84.6 L545.3 84.9 L546.7 86.6" fill="none" stroke="#3b4a98" stroke-width="5.6" stroke-linejoin="miter" stroke-miterlimit="2" />
<path d="M456.6 76.0 L458.5 76.0 L460.4 75.9 L462.2 75.9 L464.1 75.8 L466.0 75.8 L467.7 75.9 L469.4 76.0 L471.1 76.1 L472.8 76.2 L474.5 76.3 L476.4 76.6 L478.2 76.8 L480.1 77.1 L482.0 77.4 L483.7 77.8 L485.4 78.1 L487.1 78.5 L488.8 78.8 L490.6 79.3 L492.4 79.8 L494.2 80.3 L496.0 80.8 L497.8 81.2 L499.5 81.6 L501.2 82.0 L503.0 82.4 L504.8 82.6 L506.5 82.7 L508.2 82.8 L510.0 83.0 L511.9 83.1 L513.8 83.2 L515.7 83.3 L517.6 83.4 L519.5 83.5 L521.3 83.5 L523.1 83.5 L525.0 83.6 L526.8 83.6 L528.5 83.7 L530.2 83.8 L532.0 83.8 L533.8 84.0 L535.5 84.3 L537.2 84.5 L539.0 84.8 L540.6 85.2 L542.2 85.5 L543.8 85.9 L545.4 86.2 L547.0 86.6" fill="none" stroke="#a8519c" stroke-width="1.3" stroke-linejoin="miter" stroke-miterlimit="2" stroke-dasharray="1.4 12" stroke-dashoffset="2"/>
<path d="M456.6 77.0 L458.5 77.0 L460.4 76.9 L462.2 76.9 L464.1 76.8 L466.0 76.8 L467.7 76.9 L469.4 77.0 L471.1 77.1 L472.8 77.2 L474.5 77.3 L476.4 77.6 L478.2 77.8 L480.1 78.1 L482.0 78.4 L483.7 78.8 L485.4 79.1 L487.1 79.5 L488.8 79.8 L490.6 80.3 L492.4 80.8 L494.2 81.3 L496.0 81.8 L497.8 82.2 L499.5 82.6 L501.2 83.0 L503.0 83.4 L504.8 83.6 L506.5 83.7 L508.2 83.8 L510.0 84.0 L511.9 84.1 L513.8 84.2 L515.7 84.3 L517.6 84.4 L519.5 84.5 L521.3 84.5 L523.1 84.5 L525.0 84.6 L526.8 84.6 L528.5 84.7 L530.2 84.8 L532.0 84.8 L533.8 85.0 L535.5 85.3 L537.2 85.5 L539.0 85.8 L540.6 86.2 L542.2 86.5 L543.8 86.9 L545.4 87.2 L547.0 87.6" fill="none" stroke="#62c3c0" stroke-width="1.1" stroke-linejoin="miter" stroke-miterlimit="2" stroke-dasharray="1.3 18" stroke-dashoffset="0"/>
<rect x="542.4" y="91.0" width="6.4" height="4.0" fill="#62c3c0"/>
<rect x="542.4" y="95.0" width="6.4" height="7.0" fill="#3b4a98"/>
<rect x="542.4" y="105.4" width="6.4" height="1.8" fill="#62c3c0"/>
<rect x="542.4" y="107.2" width="6.4" height="8.0" fill="#3b4a98"/>
<rect x="542.4" y="115.2" width="6.4" height="6.5" fill="#a8519c"/>
<rect x="542.4" y="121.7" width="6.4" height="7.0" fill="#3b4a98"/>
<rect x="542.4" y="128.7" width="6.4" height="4.5" fill="#a8519c"/>
<rect x="542.4" y="133.2" width="6.4" height="5.0" fill="#3b4a98"/>
<rect x="542.4" y="139.4" width="6.4" height="2.6" fill="#62c3c0"/>
<rect x="546.6" y="146" width="6.4" height="4.4" fill="#3b4a98"/>
<path d="M546.5 144.5 L552 141.5 L553 143.5 L548 146 Z" fill="#62c3c0"/>
<path d="M548 126 L555 122 L558 128 L558 137 L548 140 Z" fill="#3b4a98"/>
<path d="M553.1 138.8 L554.8 136.8 L556.5 137.1 L557.8 135.7 L559.6 135.8 L561.6 135.3 L563.0 134.4 L565.1 135.7 L566.9 134.4 L568.8 132.9 L570.7 132.9 L572.1 132.6 L573.7 131.1 L575.0 130.2 L577.0 129.9 L578.6 128.3 L579.9 129.6 L581.3 128.1 L583.1 126.7 L585.3 126.0 L586.9 124.9 L587.8 125.8 L590.1 123.0 L591.9 123.2 L594.0 121.7 L595.2 123.1 L597.5 120.5 L598.8 120.3 L600.9 120.2 L602.8 119.9 L604.0 118.9 L606.0 117.9 L607.3 117.0 L609.3 116.3" fill="none" stroke="#62c3c0" stroke-width="3.4" stroke-linejoin="miter" stroke-miterlimit="2" stroke-dasharray="7 3 2 3"/>
<path d="M552.6 137.4 L554.2 136.8 L556.6 135.8 L558.8 135.6 L559.9 135.8 L562.1 134.9 L563.2 134.1 L564.9 134.2 L566.6 132.8 L568.7 132.2 L570.2 132.5 L572.5 131.1 L573.6 129.6 L575.1 128.8 L577.1 129.2 L578.0 129.3 L579.9 128.3 L582.0 127.9 L582.8 125.9 L585.2 124.1 L586.0 124.7 L588.3 124.7 L590.5 123.0 L592.6 122.1 L593.8 121.9 L595.4 120.5 L597.4 119.8 L599.5 119.9 L600.7 117.7 L602.2 117.7 L604.1 117.3 L606.1 117.2 L607.3 115.0 L609.1 115.3" fill="none" stroke="#a8519c" stroke-width="3.4" stroke-linejoin="miter" stroke-miterlimit="2" stroke-dasharray="8 5"/>
<path d="M552.8 137.7 L555.0 135.5 L556.1 136.3 L558.1 134.8 L560.4 136.3 L561.3 136.3 L563.8 135.9 L564.8 134.9 L567.3 133.6 L568.8 133.7 L570.1 133.0 L571.7 130.9 L573.6 129.7 L575.5 130.9 L576.5 130.2 L579.1 130.0 L580.3 129.2 L581.5 126.1 L582.9 127.7 L584.8 125.8 L586.4 123.8 L588.5 125.4 L589.6 122.7 L592.0 123.3 L593.8 123.1 L596.0 122.0 L597.8 121.4 L598.6 120.7 L600.2 118.5 L602.4 119.1 L603.5 116.4 L605.2 117.3 L607.3 115.6 L609.1 113.4" fill="none" stroke="#3b4a98" stroke-width="4.2" stroke-linejoin="miter" stroke-miterlimit="2" />
<path d="M553.0 137.0 L554.8 136.7 L556.5 136.3 L558.2 135.9 L560.0 135.6 L561.7 135.1 L563.3 134.7 L565.0 134.2 L566.8 133.6 L568.6 132.9 L570.4 132.3 L572.0 131.6 L573.7 130.9 L575.4 130.2 L577.0 129.5 L578.5 128.8 L580.1 128.0 L581.6 127.3 L583.2 126.5 L584.7 125.8 L586.5 125.0 L588.4 124.2 L590.2 123.4 L592.0 122.6 L593.8 121.9 L595.5 121.3 L597.2 120.7 L599.0 120.0 L600.7 119.2 L602.3 118.4 L604.0 117.6 L605.7 116.6 L607.3 115.6 L609.0 114.6" fill="none" stroke="#a8519c" stroke-width="1.3" stroke-linejoin="miter" stroke-miterlimit="2" stroke-dasharray="1.4 15" stroke-dashoffset="0"/>
<path d="M553.0 138.0 L554.8 137.7 L556.5 137.3 L558.2 136.9 L560.0 136.6 L561.7 136.1 L563.3 135.7 L565.0 135.2 L566.8 134.6 L568.6 133.9 L570.4 133.3 L572.0 132.6 L573.7 131.9 L575.4 131.2 L577.0 130.5 L578.5 129.8 L580.1 129.0 L581.6 128.3 L583.2 127.5 L584.7 126.8 L586.5 126.0 L588.4 125.2 L590.2 124.4 L592.0 123.6 L593.8 122.9 L595.5 122.3 L597.2 121.7 L599.0 121.0 L600.7 120.2 L602.3 119.4 L604.0 118.6 L605.7 117.6 L607.3 116.6 L609.0 115.6" fill="none" stroke="#62c3c0" stroke-width="1.1" stroke-linejoin="miter" stroke-miterlimit="2" stroke-dasharray="1.3 22" stroke-dashoffset="2"/>
<rect x="606.1" y="93.5" width="6.6" height="6.0" fill="#3b4a98"/>
<rect x="606.1" y="102.1" width="6.6" height="2.6" fill="#62c3c0"/>
<rect x="606.1" y="104.7" width="6.6" height="9.0" fill="#3b4a98"/>
<rect x="606.1" y="113.7" width="6.6" height="2.0" fill="#a8519c"/>
<rect x="606.1" y="115.7" width="6.6" height="2.3" fill="#3b4a98"/>
<path d="M606 92 L606.3 84 L609 79.5 L611.5 76 L614 79 L615.8 86 L615.8 93 Z" fill="#3b4a98"/>
<path d="M609.5 78.5 L611.5 76 L614 79 L614.6 82.5 L612.6 80.5 Z" fill="#a8519c"/>
<rect x="610" y="84" width="2.6" height="2.2" fill="#fff"/>
<rect x="608.6" y="87" width="2.4" height="5" fill="#62c3c0"/>
<path d="M606.3 96.3 L607.4 96.1 L609.0 97.8 L611.3 96.3 L612.9 96.4 L614.1 97.4 L616.4 97.2 L617.9 96.0 L619.5 93.3 L622.1 94.1 L623.1 95.7 L625.4 95.7 L627.0 97.9 L628.8 98.5 L630.2 96.7 L632.5 95.9 L633.8 97.3 L636.1 96.7 L637.9 94.8 L640.1 94.5" fill="none" stroke="#62c3c0" stroke-width="5.0" stroke-linejoin="miter" stroke-miterlimit="2" stroke-dasharray="7 3 2 3"/>
<path d="M606.6 95.0 L607.8 94.5 L609.5 95.2 L611.1 94.4 L612.5 96.3 L614.5 94.5 L616.0 94.3 L617.7 93.3 L620.0 92.8 L621.2 92.5 L622.8 92.9 L625.4 94.0 L626.8 96.4 L629.2 95.2 L630.4 96.3 L632.1 96.6 L633.6 96.3 L636.1 94.1 L638.1 93.5 L640.5 93.5" fill="none" stroke="#a8519c" stroke-width="5.0" stroke-linejoin="miter" stroke-miterlimit="2" stroke-dasharray="8 5"/>
<path d="M606.5 96.8 L608.3 96.8 L609.2 96.8 L611.3 95.2 L613.4 94.7 L614.9 94.4 L616.4 95.3 L618.3 95.0 L619.2 95.0 L621.7 92.5 L622.7 95.3 L624.5 94.7 L627.2 95.3 L628.6 97.9 L631.0 95.0 L632.3 95.9 L634.4 95.6 L635.7 96.6 L638.0 94.2 L640.0 95.9" fill="none" stroke="#3b4a98" stroke-width="5.8" stroke-linejoin="miter" stroke-miterlimit="2" />
<path d="M606.0 96.0 L607.8 96.0 L609.5 96.0 L611.2 96.0 L613.0 96.0 L614.7 95.7 L616.3 95.3 L618.0 95.0 L619.8 93.8 L621.6 92.5 L623.3 94.0 L625.0 95.5 L626.9 96.0 L628.8 96.6 L630.5 96.3 L632.3 95.9 L634.0 95.6 L636.1 95.3 L638.2 94.9 L640.3 94.6" fill="none" stroke="#a8519c" stroke-width="1.3" stroke-linejoin="miter" stroke-miterlimit="2" stroke-dasharray="1.4 13" stroke-dashoffset="4"/>
<path d="M606.0 97.0 L607.8 97.0 L609.5 97.0 L611.2 97.0 L613.0 97.0 L614.7 96.7 L616.3 96.3 L618.0 96.0 L619.8 94.8 L621.6 93.5 L623.3 95.0 L625.0 96.5 L626.9 97.0 L628.8 97.6 L630.5 97.3 L632.3 96.9 L634.0 96.6 L636.1 96.3 L638.2 95.9 L640.3 95.6" fill="none" stroke="#62c3c0" stroke-width="1.1" stroke-linejoin="miter" stroke-miterlimit="2" stroke-dasharray="1.3 22" stroke-dashoffset="6"/>
<path d="M639.4 95.4 L641.2 95.4 L643.4 95.7 L644.6 93.8 L647.2 94.0 L649.1 91.7 L650.6 92.3 L652.6 91.7 L654.2 90.5 L655.1 90.5 L657.1 90.0 L659.1 90.0 L661.0 89.5 L663.1 88.3 L665.0 88.8 L667.0 88.9 L669.1 86.2 L670.5 86.1 L672.5 85.6 L673.6 85.1 L674.5 83.4" fill="none" stroke="#62c3c0" stroke-width="3.4" stroke-linejoin="miter" stroke-miterlimit="2" stroke-dasharray="7 3 2 3"/>
<path d="M639.2 95.3 L641.5 94.1 L643.2 94.6 L645.2 91.7 L646.6 93.1 L648.4 92.8 L650.3 91.8 L652.6 91.1 L653.4 90.4 L655.2 91.1 L656.9 89.1 L658.9 89.5 L661.3 88.8 L662.8 88.5 L664.3 88.0 L667.3 87.3 L669.0 84.9 L671.0 85.7 L672.1 83.2 L673.1 83.5 L674.7 80.9" fill="none" stroke="#a8519c" stroke-width="3.4" stroke-linejoin="miter" stroke-miterlimit="2" stroke-dasharray="8 5"/>
<path d="M639.6 94.0 L640.8 94.3 L642.5 95.2 L644.8 92.6 L647.0 92.8 L648.8 91.5 L650.6 90.4 L652.1 91.3 L653.3 92.1 L655.2 90.4 L656.6 91.3 L658.5 90.3 L660.5 90.3 L663.2 89.3 L664.6 87.2 L667.1 86.3 L669.1 86.2 L670.9 85.3 L672.4 83.2 L673.7 82.0 L674.8 81.2" fill="none" stroke="#3b4a98" stroke-width="4.2" stroke-linejoin="miter" stroke-miterlimit="2" />
<path d="M639.0 94.8 L641.0 94.3 L643.0 93.9 L645.0 93.4 L646.8 92.8 L648.6 92.3 L650.4 91.7 L652.0 91.3 L653.7 90.8 L655.4 90.4 L657.0 90.0 L658.9 89.5 L660.9 89.0 L662.8 88.5 L664.7 88.0 L666.9 87.1 L669.0 86.2 L670.5 85.3 L672.0 84.5 L673.5 83.2 L675.0 82.0" fill="none" stroke="#a8519c" stroke-width="1.3" stroke-linejoin="miter" stroke-miterlimit="2" stroke-dasharray="1.4 10" stroke-dashoffset="0"/>
<path d="M639.0 95.8 L641.0 95.3 L643.0 94.9 L645.0 94.4 L646.8 93.8 L648.6 93.3 L650.4 92.7 L652.0 92.3 L653.7 91.8 L655.4 91.4 L657.0 91.0 L658.9 90.5 L660.9 90.0 L662.8 89.5 L664.7 89.0 L666.9 88.1 L669.0 87.2 L670.5 86.3 L672.0 85.5 L673.5 84.2 L675.0 83.0" fill="none" stroke="#62c3c0" stroke-width="1.1" stroke-linejoin="miter" stroke-miterlimit="2" stroke-dasharray="1.3 21" stroke-dashoffset="4"/>
<path d="M673.6 83.8 L675.8 81.1 L677.5 80.6 L679.6 79.8 L681.4 79.4 L684.6 81.1 L685.2 81.2 L687.9 81.0 L688.5 80.9 L690.5 80.4" fill="none" stroke="#62c3c0" stroke-width="5.0" stroke-linejoin="miter" stroke-miterlimit="2" stroke-dasharray="7 3 2 3"/>
<path d="M674.1 80.9 L676.4 81.1 L677.9 80.5 L680.0 78.8 L681.6 78.5 L683.4 80.0 L686.1 79.0 L686.9 79.9 L689.4 80.8 L690.2 80.6" fill="none" stroke="#a8519c" stroke-width="5.0" stroke-linejoin="miter" stroke-miterlimit="2" stroke-dasharray="8 5"/>
<path d="M674.4 83.8 L676.0 81.3 L677.3 80.0 L679.6 79.9 L681.5 79.9 L684.4 79.8 L685.3 78.8 L686.8 81.3 L689.5 81.5 L690.5 79.2" fill="none" stroke="#3b4a98" stroke-width="5.8" stroke-linejoin="miter" stroke-miterlimit="2" />
<path d="M674.0 82.6 L675.9 81.3 L677.7 80.0 L679.8 79.9 L681.9 79.9 L684.0 79.8 L685.6 80.0 L687.3 80.1 L689.0 80.2 L690.6 80.4" fill="none" stroke="#a8519c" stroke-width="1.3" stroke-linejoin="miter" stroke-miterlimit="2" stroke-dasharray="1.4 11" stroke-dashoffset="7"/>
<path d="M674.0 83.6 L675.9 82.3 L677.7 81.0 L679.8 80.9 L681.9 80.9 L684.0 80.8 L685.6 81.0 L687.3 81.1 L689.0 81.2 L690.6 81.4" fill="none" stroke="#62c3c0" stroke-width="1.1" stroke-linejoin="miter" stroke-miterlimit="2" stroke-dasharray="1.3 23" stroke-dashoffset="7"/>
<text x="98.4" y="20.0" font-size="28.4" text-anchor="end" >10</text>
<text x="98.4" y="95.6" font-size="28.4" text-anchor="end" >0</text>
<text x="98.4" y="171.2" font-size="28.4" text-anchor="end" >−10</text>
<text x="98.4" y="246.8" font-size="28.4" text-anchor="end" >−20</text>
<text x="98.4" y="322.4" font-size="28.4" text-anchor="end" >−30</text>
<text x="106.4" y="346.2" font-size="28.4" text-anchor="middle" >0</text>
<text x="252.6" y="346.2" font-size="28.4" text-anchor="middle" >10</text>
<text x="398.9" y="346.2" font-size="28.4" text-anchor="middle" >20</text>
<text x="543.8" y="346.2" font-size="28.4" text-anchor="middle" >30</text>
<text x="687.6" y="346.2" font-size="28.4" text-anchor="middle" >40</text>
<text x="363.3" y="391.0" font-size="27.6" text-anchor="start" textLength="77.4" lengthAdjust="spacingAndGlyphs">时间/s</text>
<text transform="translate(24.6,239.2) rotate(-90)" font-size="27.4" textLength="111.6" lengthAdjust="spacingAndGlyphs">俯仰舵偏</text>
<text transform="translate(21.7,128.2) rotate(-90)" font-size="29.5" letter-spacing="0.5">/(°)</text>
<path d="M155 428.5 H217" stroke="#62c3c0" stroke-width="5" stroke-dasharray="11.5 5 2.6 6.4 12 4 2.6 4.4 13.5 10"/>
<path d="M309.6 428.5 H372.6" stroke="#a8519c" stroke-width="5" stroke-dasharray="16.6 8.8 14.4 8.8 14.4 10"/>
<rect x="461.2" y="425.9" width="2.4" height="5.2" fill="#2c3788"/>
<rect x="465.2" y="425.9" width="2.4" height="5.2" fill="#2c3788"/>
<rect x="467.9" y="425.9" width="2.1" height="5.2" fill="#2c3788"/>
<rect x="470.4" y="425.9" width="1.8" height="5.2" fill="#2c3788"/>
<rect x="472.7" y="425.9" width="2.2" height="5.2" fill="#2c3788"/>
<rect x="475.2" y="425.9" width="2.3" height="5.2" fill="#2c3788"/>
<rect x="479.1" y="425.9" width="2.5" height="5.2" fill="#2c3788"/>
<rect x="481.8" y="425.9" width="2.7" height="5.2" fill="#2c3788"/>
<rect x="486.1" y="425.9" width="2.7" height="5.2" fill="#2c3788"/>
<rect x="489.1" y="425.9" width="2.9" height="5.2" fill="#2c3788"/>
<rect x="493.4" y="425.9" width="2.3" height="5.2" fill="#2c3788"/>
<rect x="500.0" y="425.9" width="2.2" height="5.2" fill="#2c3788"/>
<rect x="506.7" y="425.9" width="2.2" height="5.2" fill="#2c3788"/>
<rect x="514.0" y="425.9" width="2.3" height="5.2" fill="#2c3788"/>
<rect x="520.6" y="425.9" width="2.5" height="5.2" fill="#2c3788"/>
<text y="436" font-size="28.4"><tspan x="226.5" font-style="italic">T</tspan><tspan x="241.5" dy="8.8" font-size="17">c</tspan><tspan x="250.2" dy="-6.2">=</tspan><tspan x="269.2" dy="-2.6">2</tspan><tspan x="292.2">s</tspan></text>
<text y="436" font-size="28.4"><tspan x="378.5" font-style="italic">T</tspan><tspan x="394.5" dy="8.8" font-size="17">c</tspan><tspan x="403.2" dy="-6.2">=</tspan><tspan x="423.2" dy="-2.6">5</tspan><tspan x="444.8">s</tspan></text>
<text y="436" font-size="28.4"><tspan x="531.1" font-style="italic">T</tspan><tspan x="547.1" dy="8.8" font-size="17">c</tspan><tspan x="556.2" dy="-6.2">=</tspan><tspan x="575.6" dy="-2.6">10</tspan><tspan x="611.6">s</tspan></text>
</svg>
</body></html>
